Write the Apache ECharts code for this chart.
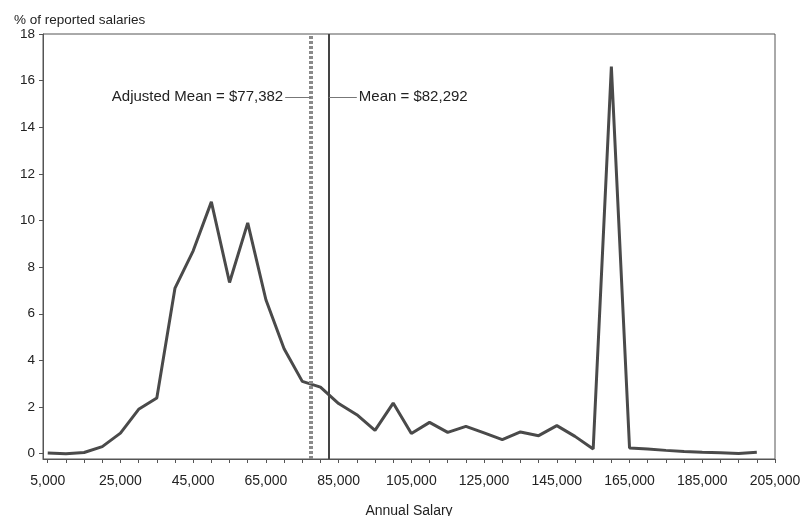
<!DOCTYPE html>
<html>
<head>
<meta charset="utf-8">
<script src="https://cdn.jsdelivr.net/npm/echarts@6/dist/echarts.min.js"></script>
<style>
html,body{margin:0;padding:0;background:#fff;}
#chart{width:800px;height:516px;}
</style>
</head>
<body>
<div id="chart"></div>
<script>
// Salary bins (USD)
const salaries = [5000,10000,15000,20000,25000,30000,35000,40000,45000,50000,
  55000,60000,65000,70000,75000,80000,85000,90000,95000,100000,
  105000,110000,115000,120000,125000,130000,135000,140000,145000,150000,
  155000,160000,165000,170000,175000,180000,185000,190000,195000,200000];
// % of reported salaries
const percents = [0.03,0.0,0.05,0.3,0.88,1.9,2.39,7.1,8.7,10.8,
  7.34,9.9,6.6,4.5,3.1,2.85,2.15,1.67,1.0,2.17,
  0.86,1.34,0.91,1.17,0.89,0.6,0.93,0.77,1.2,0.74,
  0.2,16.6,0.24,0.2,0.14,0.09,0.06,0.04,0.01,0.06];
const xTickLabels = [5000,25000,45000,65000,85000,105000,125000,145000,165000,185000,205000];
const xTicks = [5000,10000,15000,20000,25000,30000,35000,40000,45000,50000,55000,60000,65000,70000,
  75000,80000,85000,90000,95000,100000,105000,110000,115000,120000,125000,130000,135000,140000,
  145000,150000,155000,160000,165000,170000,175000,180000,185000,190000,195000,200000,205000];
const yTickLabels = [0,2,4,6,8,10,12,14,16,18];
const adjustedMean = 77382;
const mean = 82292;
const meanLabelLevel = 15.3;
const adjLabelStart = 70300;
const meanLabelEnd = 90000;

const fmt = v => Number(v).toLocaleString('en-US');
const font = '"Liberation Sans", Arial, sans-serif';

const chart = echarts.init(document.getElementById('chart'));
chart.setOption({
  animation: false,
  backgroundColor: '#fff',
  textStyle: {fontFamily: font},
  title: {
    text: '% of reported salaries',
    left: 9, top: 8,
    textStyle: {fontSize: 13.5, fontWeight: 'normal', color: '#222', fontFamily: font}
  },
  grid: {
    left: 43, right: 25, top: 34, bottom: 57,
    containLabel: false, outerBoundsMode: 'none',
    show: true, borderColor: '#555', borderWidth: 1, backgroundColor: 'transparent'
  },
  xAxis: {
    type: 'value', min: 3700, max: 205000,
    name: 'Annual Salary', nameLocation: 'middle', nameGap: 45,
    nameTextStyle: {fontSize: 14, color: '#222', verticalAlign: 'top'},
    axisLine: {show: true, onZero: false, lineStyle: {color: '#555', width: 1}},
    axisTick: {show: true, length: 4, customValues: xTicks, lineStyle: {color: '#555'}},
    axisLabel: {customValues: xTickLabels, fontSize: 14, color: '#222', margin: 15, formatter: v => fmt(v)},
    splitLine: {show: false}
  },
  yAxis: {
    type: 'value', min: -0.23, max: 18,
    axisLine: {show: true, lineStyle: {color: '#555', width: 1}},
    axisTick: {show: true, length: 4, customValues: yTickLabels, lineStyle: {color: '#555'}},
    axisLabel: {customValues: yTickLabels, fontSize: 13.5, color: '#222', margin: 8},
    splitLine: {show: false}
  },
  series: [{
    type: 'line',
    data: salaries.map((s, i) => [s, percents[i]]),
    showSymbol: false,
    lineStyle: {color: '#4a4a4a', width: 3},
    z: 3,
    markLine: {
      silent: true,
      symbol: ['none', 'none'],
      animation: false,
      data: [
        {xAxis: adjustedMean, label: {show: false},
         lineStyle: {type: [3, 2], color: '#8a8a8a', width: 4}},
        {xAxis: mean, label: {show: false},
         lineStyle: {type: 'solid', color: '#444', width: 2}},
        [{coord: [adjLabelStart, meanLabelLevel],
          label: {show: true, position: 'start', distance: 2,
            formatter: 'Adjusted Mean = $' + fmt(adjustedMean),
            fontSize: 15, color: '#222', fontFamily: font},
          lineStyle: {type: 'solid', color: '#777', width: 1}},
         {coord: [adjustedMean, meanLabelLevel]}],
        [{coord: [mean, meanLabelLevel],
          label: {show: true, position: 'end', distance: 2,
            formatter: 'Mean = $' + fmt(mean),
            fontSize: 15, color: '#222', fontFamily: font},
          lineStyle: {type: 'solid', color: '#777', width: 1}},
         {coord: [meanLabelEnd, meanLabelLevel]}]
      ]
    }
  }]
});
</script>
</body>
</html>
